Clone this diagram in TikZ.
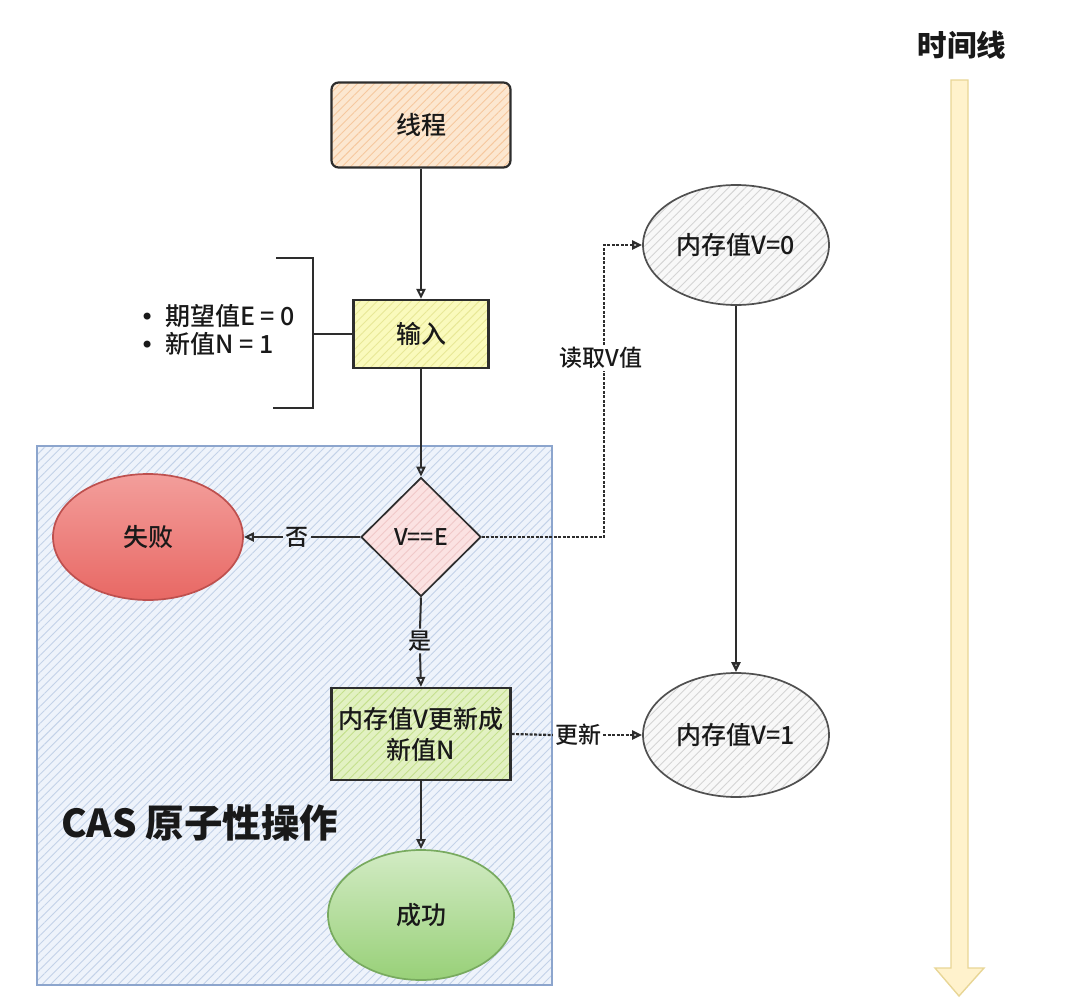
\documentclass[tikz,border=0pt]{standalone}
\usepackage{fontspec}
\setmainfont{Noto Sans CJK SC}
\newfontfamily\medfont{Noto Sans CJK SC Medium}
\newfontfamily\dvfont{DejaVu Sans}
\usetikzlibrary{shapes.geometric,arrows.meta,patterns.meta}
\definecolor{linec}{RGB}{45,45,45}
\definecolor{txtc}{RGB}{25,25,25}
\definecolor{casfill}{RGB}{238,243,251}
\definecolor{caspat}{RGB}{195,210,232}
\definecolor{casline}{RGB}{140,165,205}
\definecolor{thrfill}{RGB}{252,231,208}
\definecolor{thrpat}{RGB}{246,200,158}
\definecolor{infill}{RGB}{250,250,188}
\definecolor{inpat}{RGB}{232,232,150}
\definecolor{updfill}{RGB}{226,241,194}
\definecolor{updpat}{RGB}{196,224,140}
\definecolor{dfill}{RGB}{251,226,226}
\definecolor{dpat}{RGB}{240,200,200}
\definecolor{mfill}{RGB}{248,248,248}
\definecolor{mpat}{RGB}{212,212,212}
\definecolor{tlfill}{RGB}{255,242,204}
\definecolor{tlline}{RGB}{232,214,150}
\tikzset{
  hatch/.style 2 args={preaction={fill=#1},pattern={Lines[angle=45,distance=6pt,line width=0.9pt]},pattern color=#2},
  boxnode/.style={draw=linec,line width=2.2pt,inner sep=0pt,font=\medfont\fontsize{25}{31}\selectfont,text=txtc,align=center},
  ellnode/.style={ellipse,draw=linec,line width=1.7pt,inner sep=0pt,font=\medfont\fontsize{25}{28}\selectfont,text=txtc},
  conn/.style={draw=linec,line width=2pt},
  arr/.style={conn,-{Triangle[open,length=10pt,width=9pt]}},
  dconn/.style={draw=linec,line width=2.2pt,dash pattern=on 3pt off 1.5pt},
  darr/.style={dconn,-{Triangle[open,length=10pt,width=9pt]}},
  lbl/.style={inner sep=2pt,font=\medfont\fontsize{23}{26}\selectfont,text=txtc},
}
\begin{document}
\begin{tikzpicture}[x=1pt,y=-1pt]
\useasboundingbox[fill=white] (0,0) rectangle (1077,1001);
% CAS region
\path[hatch={casfill}{caspat},draw=casline,line width=1.8pt] (37,446) rectangle (552,985);
\node[anchor=west,font=\bfseries\fontsize{38.5}{40}\selectfont,text=txtc,inner sep=0pt] (cas) at (61,823) {CAS 原子性操作};
% time line
\node[font=\bfseries\fontsize{29.5}{32}\selectfont,text=txtc] (tl) at (962,45) {时间线};
\path[fill=tlfill,draw=tlline,line width=1.4pt] (951,80) -- (968,80) -- (968,968) -- (984,968) -- (959,996) -- (935,968) -- (951,968) -- cycle;
% nodes
\node[boxnode,rounded corners=7pt,minimum width=179pt,minimum height=85pt,hatch={thrfill}{thrpat}] (thr) at (421,125) {线程};
\node[boxnode,minimum width=135pt,minimum height=68pt,hatch={infill}{inpat}] (in) at (421,334) {输入};
\node[diamond,draw=linec,line width=1.7pt,inner sep=0pt,minimum width=120pt,minimum height=119pt,hatch={dfill}{dpat},font=\medfont\fontsize{23}{26}\selectfont,text=txtc] (d) at (421,537) {V==E};
\node[ellnode,minimum width=190pt,minimum height=126pt,top color={rgb,255:red,243;green,158;blue,155},bottom color={rgb,255:red,232;green,104;blue,100},draw={rgb,255:red,190;green,80;blue,78}] (fail) at (148,537) {失败};
\node[boxnode,minimum width=179pt,minimum height=92pt,hatch={updfill}{updpat}] (upd) at (421,734) {内存值V更新成\\新值N};
\node[ellnode,minimum width=186pt,minimum height=130pt,top color={rgb,255:red,210;green,235;blue,196},bottom color={rgb,255:red,152;green,208;blue,120},draw={rgb,255:red,120;green,170;blue,95}] (ok) at (421,915) {成功};
\node[ellnode,minimum width=186pt,minimum height=120pt,hatch={mfill}{mpat},draw={rgb,255:red,80;green,80;blue,80}] (m0) at (736,245) {内存值V=0};
\node[ellnode,minimum width=186pt,minimum height=124pt,hatch={mfill}{mpat},draw={rgb,255:red,80;green,80;blue,80}] (m1) at (736,735) {内存值V=1};
% bullets
\node[anchor=west,align=left,inner sep=0pt,font=\medfont\fontsize{25}{28}\selectfont,text=txtc] (bul) at (140,330) {{\dvfont\fontsize{24}{28}\selectfont •}\hspace{11pt}期望值E = 0\\{\dvfont\fontsize{24}{28}\selectfont •}\hspace{11pt}新值N = 1};
% bracket
\coordinate (b1) at (276,258);
\coordinate (b2) at (313,258);
\coordinate (b3) at (313,408);
\coordinate (b4) at (273,408);
\coordinate (bm) at (313,334);
\draw[conn] (b1) -- (b2) -- (b3) -- (b4);
\draw[conn] (bm) -- (in.west);
% labels on connectors
\node[lbl] (no) at (297,537) {否};
\node[lbl] (yes) at (420,641) {是};
\node[lbl] (read) at (601,358) {读取V值};
\node[lbl] (updl) at (578,735) {更新};
% connectors
\draw[arr] (thr.south) -- (in.north);
\draw[arr] (in.south) -- (d.north);
\draw[conn] (d.west) -- (no.east);
\draw[arr] (no.west) -- (fail.east);
\draw[conn] (d.south) -- (yes.north);
\draw[arr] (yes.south) -- (upd.north);
\draw[arr] (upd.south) -- (ok.north);
\coordinate (r1) at (604,537);
\coordinate (r2) at (604,245);
\draw[dconn] (d.east) -- (r1) -- (read.south -| r1);
\draw[darr] (read.north -| r2) -- (r2) -- (m0.west);
\draw[dconn] (upd.east) -- (updl.west);
\draw[darr] (updl.east) -- (m1.west);
\draw[arr,line width=2.4pt] (m0.south) -- (m1.north);
\end{tikzpicture}
\end{document}
